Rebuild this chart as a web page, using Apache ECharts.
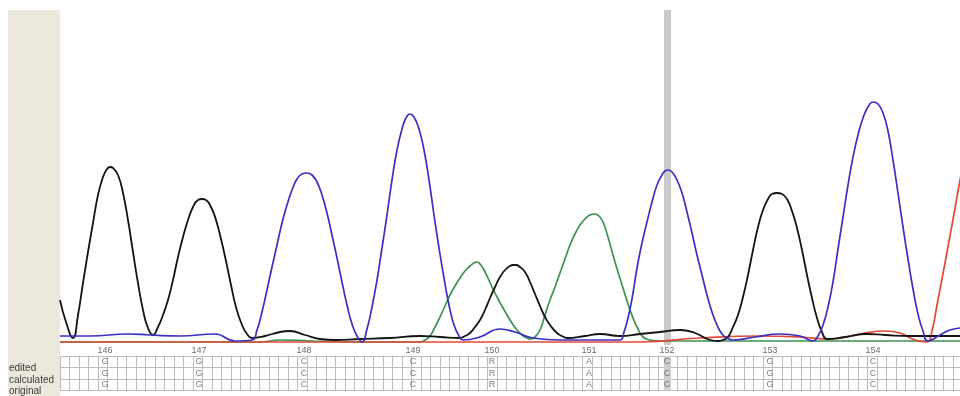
<!DOCTYPE html>
<html>
<head>
<meta charset="utf-8">
<script src="https://cdn.jsdelivr.net/npm/echarts@6/dist/echarts.min.js"></script>
<style>
html,body{margin:0;padding:0;background:#fff;}
#chart{width:960px;height:396px;}
</style>
</head>
<body>
<div id="chart"></div>
<script>
// ---- data (scan point, signal) ----
const blackTrace = [[0,45],[6,23],[13,7],[18,30],[23,62],[28,93],[33,122],[38,150],[43,168],[47,176],[50,178],[53,177],[58,170],[63,152],[68,125],[73,93],[78,62],[83,35],[88,17],[93,10],
  [98,18],[103,30],[108,45],[113,65],[118,88],[123,108],[128,125],[133,138],[138,145],[142,146],[146,145],[151,138],[156,125],[161,106],[166,84],[171,60],[176,38],[182,20],[187,11],[192,7],
  [205,9],[220,13],[230,14],[245,10],[260,6],[275,5],[300,6],[330,7],[360,9],[380,8],
  [400,7],[405,9],[410,12],[415,18],[420,25],[425,35],[430,47],[435,58],[440,68],[445,75],[450,79],[453,80],[456,80],[460,78],[465,73],[470,63],[475,51],[480,39],[485,28],[490,20],[497,12],[502,9],[507,7],
  [525,9],[540,11],[560,9],[580,11],[600,13],[620,15],[635,12],[650,5],
  [658,4],[663,5],[668,8],[673,18],[678,30],[683,48],[688,70],[693,95],[698,118],[703,135],[708,146],[712,151],[717,152],[722,151],[727,146],[732,134],[737,117],[742,95],[747,70],[752,47],[757,27],[762,13],[767,6],
  [785,8],[807,11],[825,10],[850,9],[875,9],[900,9]];
const blueTrace = [[0,9],[30,9],[68,11],[90,10],[120,9],[155,11],[175,4],
  [192,5],[197,15],[202,33],[207,55],[212,78],[217,100],[222,122],[227,140],[232,155],[237,166],[242,171],[247,172],[252,170],[257,163],[262,150],[267,132],[272,110],[277,87],[282,63],[287,40],[292,21],[297,9],
  [302,3],[307,16],[312,38],[317,65],[322,97],[327,130],[332,165],[337,195],[342,216],[346,227],[350,231],[354,228],[359,216],[364,195],[369,165],[374,130],[379,97],[384,67],[389,40],[394,20],[399,9],[403,5],
  [420,8],[440,16],[455,13],[473,7],[500,5],[540,5],
  [560,5],[564,13],[568,27],[572,46],[577,77],[582,102],[587,123],[592,143],[597,160],[602,170],[605,174],[608,175],[612,173],[617,165],[622,152],[627,133],[632,112],[637,90],[642,70],[647,50],[652,33],[657,20],[662,11],[667,7],[673,5],
  [695,8],[720,11],[740,9],
  [753,4],[758,9],[763,20],[768,38],[773,63],[778,96],[783,128],[788,160],[793,188],[798,210],[803,227],[808,238],[813,243],[818,241],[823,232],[828,214],[833,185],[838,152],[843,118],[848,86],[853,56],[858,31],[863,14],[868,4],
  [880,10],[890,15],[900,17]];
const greenTrace = [[0,3],[100,3],[200,3],[220,5],[250,4],[300,3],
  [360,3],[365,5],[370,9],[375,18],[380,28],[385,39],[390,50],[395,59],[400,67],[405,74],[410,79],[414,82],[417,83],[420,81],[424,75],[428,67],[432,58],[437,48],[442,39],[447,30],[452,22],[457,15],[462,10],[467,7],
  [470,6],[475,8],[480,15],[485,30],[490,45],[495,58],[500,72],[505,86],[510,100],[515,111],[520,120],[525,126],[530,130],[535,131],[539,129],[543,123],[548,108],[553,90],[558,73],[563,57],[568,41],[573,27],[578,16],[583,8],[590,5],
  [600,4],[700,4],[800,4],[900,4]];
const redTrace = [[0,3],[150,3],[300,3],[450,3],[580,3],[640,7],[700,9],[740,8],[770,6],[800,11],[825,14],[840,12],[855,5],
  [867,3],[872,14],[877,40],[882,66],[887,93],[892,120],[897,148],[902,176],[907,204]];

const basePositions = [45,139,244,353,432,529,607,710,813];
const baseNumbers = ['146','147','148','149','150','151','152','153','154'];
const editedCalls = ['G','G','C','C','R','A','C','G','C'];
const calculatedCalls = ['G','G','C','C','R','A','C','G','C'];
const originalCalls = ['G','G','C','C','R','A','C','G','C'];
const rowNames = ['edited','calculated','original'];
const cursorRange = [604,611];

const chart = echarts.init(document.getElementById('chart'), null, {renderer:'canvas'});

function trace(data, color, w){
  return {type:'line', xAxisIndex:0, yAxisIndex:0, data:data, showSymbol:false, smooth:0.5,
    lineStyle:{color:color, width:w||1.7}, itemStyle:{color:color}, animation:false, silent:true};
}
function callRow(calls, row){
  return {type:'scatter', xAxisIndex:2, yAxisIndex:2, symbolSize:0, animation:false, silent:true,
    data: basePositions.map((p,i)=>({value:[p,row], name:calls[i]})),
    label:{show:true, position:'inside', formatter:p=>p.name, color:'#5e5e5e', fontSize:9,
      fontFamily:"'Liberation Sans Narrow','Liberation Sans',Arial,sans-serif"}};
}

const series = [
  trace(greenTrace,'#3f9152'),
  trace(redTrace,'#e24a36'),
  trace(blackTrace,'#141414',1.8),
  Object.assign(trace(blueTrace,'#3b30c4'),{
    markArea:{silent:true, itemStyle:{color:'#c9c9c9'}, data:[[{xAxis:cursorRange[0]},{xAxis:cursorRange[1]}]]}
  }),
  {type:'scatter', xAxisIndex:1, yAxisIndex:1, symbolSize:0, animation:false, silent:true,
    data: basePositions.map((p,i)=>({value:[p,0.5], name:baseNumbers[i]})),
    label:{show:true, position:'inside', formatter:p=>p.name, color:'#4a4a4a', fontSize:9,
      fontFamily:"'Liberation Sans Narrow','Liberation Sans',Arial,sans-serif"}},
  Object.assign(callRow(editedCalls,'edited'),{
    markArea:{silent:true, itemStyle:{color:'#cfcfcf'}, data:[[{xAxis:cursorRange[0]},{xAxis:cursorRange[1]}]]}
  }),
  callRow(calculatedCalls,'calculated'),
  callRow(originalCalls,'original')
];

const hiddenX = {type:'value', min:0, max:900, show:false};
chart.setOption({
  backgroundColor:'#ffffff',
  animation:false,
  graphic:[{type:'rect', z:-10, shape:{x:8,y:10,width:52,height:386}, style:{fill:'#ece9dc'}}],
  grid:[
    {left:60, right:0, top:10, height:335},
    {left:60, right:0, top:345, height:11},
    {left:60, right:0, top:356, height:38}
  ],
  xAxis:[
    Object.assign({gridIndex:0}, hiddenX),
    Object.assign({gridIndex:1}, hiddenX),
    {gridIndex:2, type:'value', min:0, max:900, interval:9.5,
      axisLine:{show:false}, axisTick:{show:false}, axisLabel:{show:false},
      splitLine:{show:true, lineStyle:{color:'#bcbcbc', width:1}}}
  ],
  yAxis:[
    {gridIndex:0, type:'value', min:0, max:335, show:false},
    {gridIndex:1, type:'value', min:0, max:1, show:false},
    {gridIndex:2, type:'category', data:rowNames, inverse:true,
      axisLine:{show:false}, axisTick:{show:false},
      splitLine:{show:true, interval:0, lineStyle:{color:'#bcbcbc', width:1}},
      axisLabel:{show:true, interval:0, align:'left', margin:51, verticalAlign:'top', padding:[2,0,0,0], color:'#3a3a3a', fontSize:10,
        fontFamily:"'Liberation Sans',Arial,sans-serif"}}
  ],
  series: series
});
</script>
</body>
</html>
